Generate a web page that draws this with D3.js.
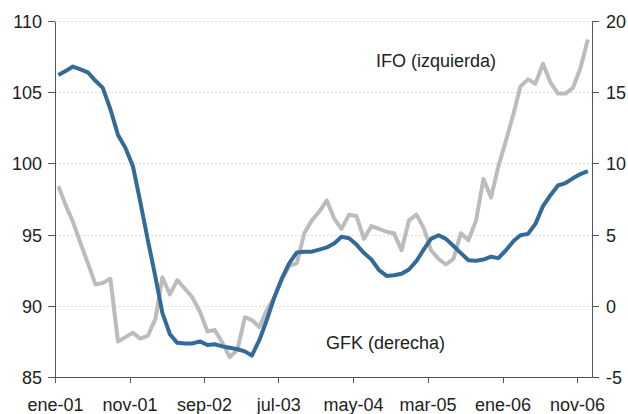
<!DOCTYPE html>
<html>
<head>
    <meta charset="utf-8">
    <title>IFO y GFK</title>
    <script src="https://cdn.jsdelivr.net/npm/d3@7/dist/d3.min.js"></script>
    <style type="text/css">
        body {
            margin: 0;
            font-family: "Liberation Sans", Arial, Helvetica, sans-serif;
            background: #ffffff;
        }

        .axis path, .axis line {
            stroke: #555555;
            shape-rendering: crispEdges;
        }

        .axis text {
            font-size: 18px;
            fill: #222222;
            font-family: "Liberation Sans", Arial, sans-serif;
        }

        .grid line {
            stroke: #dddddd;
            stroke-dasharray: 2, 2;
            shape-rendering: crispEdges;
        }

        .label {
            font-size: 18px;
            fill: #222222;
        }
    </style>
</head>
<body>
<div id="chart"></div>
<script>
// monthly values, ene-01 .. dic-06
var ifo = [98.4, 97.0, 95.9, 94.4, 93.0, 91.5, 91.6, 91.9, 87.5, 87.8, 88.1, 87.7,
           87.9, 89.1, 92.0, 90.8, 91.8, 91.2, 90.6, 89.6, 88.2, 88.3, 87.4, 86.4,
           86.9, 89.2, 89.0, 88.5, 89.7, 90.6, 91.8, 92.8, 93.0, 95.1, 96.0, 96.6,
           97.4, 96.1, 95.4, 96.4, 96.3, 94.7, 95.6, 95.4, 95.2, 95.1, 93.9, 96.0,
           96.4, 95.4, 93.9, 93.3, 92.9, 93.3, 95.1, 94.6, 96.0, 98.9, 97.6, 99.8,
           101.6, 103.5, 105.4, 105.9, 105.6, 107.0, 105.7, 104.9, 104.9, 105.3, 106.7, 108.7];

var gfk = [16.2, 16.5, 16.8, 16.6, 16.4, 15.8, 15.3, 13.8, 12.0, 11.1, 9.8, 7.3,
           4.6, 2.0, -0.5, -2.0, -2.6, -2.65, -2.65, -2.5, -2.75, -2.7, -2.85, -2.95,
           -3.05, -3.2, -3.5, -2.4, -1.0, 0.6, 1.9, 3.0, 3.75, 3.8, 3.8, 3.95,
           4.1, 4.4, 4.85, 4.75, 4.3, 3.7, 3.25, 2.5, 2.1, 2.15, 2.25, 2.55,
           3.15, 4.0, 4.7, 4.95, 4.7, 4.2, 3.7, 3.2, 3.17, 3.25, 3.45, 3.35,
           3.9, 4.55, 4.95, 5.05, 5.75, 7.0, 7.75, 8.45, 8.62, 8.95, 9.25, 9.45];

var tickLabels = ['ene-01', 'nov-01', 'sep-02', 'jul-03', 'may-04', 'mar-05', 'ene-06', 'nov-06'];
var leftTicks = [85, 90, 95, 100, 105, 110];
var rightTicks = [-5, 0, 5, 10, 15, 20];

var width = 628, height = 414;
var margin = {left: 55, right: 36, top: 21, bottom: 37};

var months = ifo.map(function(d, i) { return new Date(2001, i, 15); });
var tickDates = tickLabels.map(function(d, i) { return new Date(2001, i * 10, 1); });

var x = d3.scaleTime()
          .domain([new Date(2001, 0, 1), new Date(2007, 0, 1)])
          .range([margin.left, width - margin.right]);
var yL = d3.scaleLinear().domain([85, 110]).range([height - margin.bottom, margin.top]);
var yR = d3.scaleLinear().domain([-5, 20]).range([height - margin.bottom, margin.top]);

var svg = d3.select('#chart').append('svg')
            .attr('width', width).attr('height', height);

// dotted grid
svg.append('g')
   .attr('class', 'grid')
   .selectAll('line')
   .data(leftTicks.slice(1))
   .enter().append('line')
   .attr('x1', margin.left).attr('x2', width - margin.right)
   .attr('y1', function(d) { return yL(d) + 0.5; })
   .attr('y2', function(d) { return yL(d) + 0.5; });

var lineIfo = d3.line()
                .x(function(d, i) { return x(months[i]); })
                .y(function(d) { return yL(d); });
var lineGfk = d3.line()
                .x(function(d, i) { return x(months[i]); })
                .y(function(d) { return yR(d); });

svg.append('path')
   .datum(ifo)
   .attr('fill', 'none')
   .attr('stroke', '#bcbcbc')
   .attr('stroke-width', 4)
   .attr('stroke-linejoin', 'round')
   .attr('d', lineIfo);

svg.append('path')
   .datum(gfk)
   .attr('fill', 'none')
   .attr('stroke', '#336a98')
   .attr('stroke-width', 4)
   .attr('stroke-linejoin', 'round')
   .attr('d', lineGfk);

// axes
svg.append('g')
   .attr('class', 'axis')
   .attr('transform', 'translate(' + margin.left + ',0)')
   .call(d3.axisLeft(yL).tickValues(leftTicks).tickSize(7).tickSizeOuter(0).tickPadding(6))
   .selectAll('text').attr('dy', '0.36em');

svg.append('g')
   .attr('class', 'axis')
   .attr('transform', 'translate(' + (width - margin.right) + ',0)')
   .call(d3.axisRight(yR).tickValues(rightTicks).tickSize(7).tickSizeOuter(0).tickPadding(7)
           .tickFormat(function(d) { return String(d); }))
   .selectAll('text').attr('dy', '0.36em');

svg.append('g')
   .attr('class', 'axis')
   .attr('transform', 'translate(0,' + (height - margin.bottom) + ')')
   .call(d3.axisBottom(x).tickValues(tickDates).tickSize(6).tickSizeOuter(0).tickPadding(15)
           .tickFormat(function(d, i) { return tickLabels[i]; }));

// series labels
svg.append('text')
   .attr('class', 'label')
   .attr('x', 376).attr('y', 67)
   .text('IFO (izquierda)');

svg.append('text')
   .attr('class', 'label')
   .attr('x', 326).attr('y', 349)
   .text('GFK (derecha)');
</script>
</body>
</html>
